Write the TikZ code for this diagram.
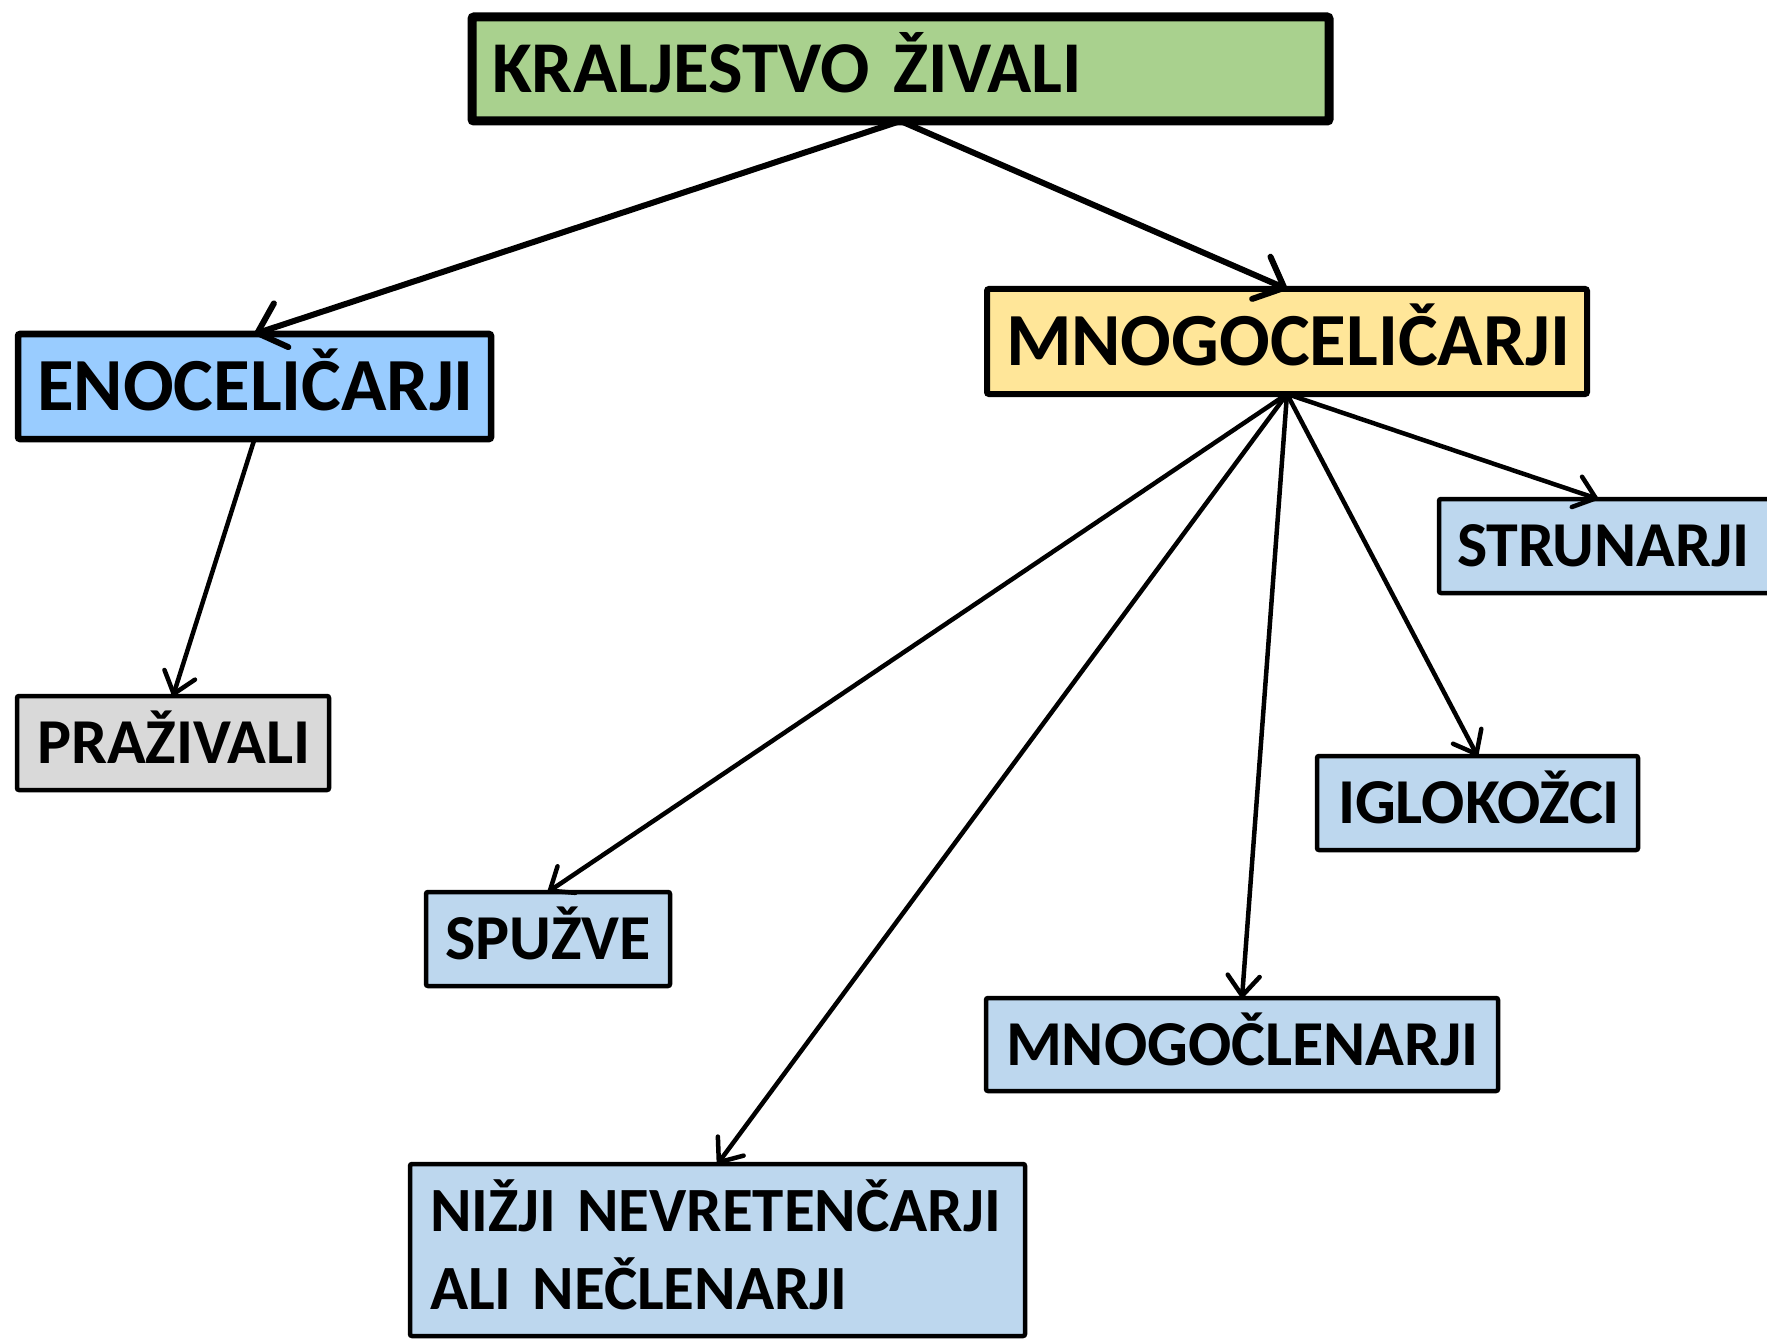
\documentclass[tikz,border=0pt]{standalone}
\usepackage{fontspec}
\setmainfont{Carlito}
\usetikzlibrary{arrows.meta}
\definecolor{cgreen}{HTML}{A9D18E}
\definecolor{cblue}{HTML}{99CCFF}
\definecolor{cyellow}{HTML}{FFE699}
\definecolor{clight}{HTML}{BDD7EE}
\definecolor{cgray}{HTML}{D9D9D9}
\begin{document}
\begin{tikzpicture}[x=1pt,y=-1pt,
  box/.style={draw=black, rounded corners=2pt, outer sep=0pt, inner ysep=0pt, align=left, font=\bfseries},
  topfont/.style={font=\fontsize{73}{80}\selectfont\bfseries, text height=47pt, text depth=0pt},
  bigfont/.style={font=\fontsize{75}{80}\selectfont\bfseries, text height=48pt, text depth=0pt},
  smallfont/.style={font=\fontsize{64}{78}\selectfont\bfseries, text height=41pt, text depth=0pt},
  bigarrow/.style={line width=6pt, -{Straight Barb[length=25pt,width=46pt,round]}},
  smallarrow/.style={line width=4.5pt, -{Straight Barb[length=20pt,width=32pt,round]}}]
\useasboundingbox (0,0) rectangle (1767,1340);
\node[box, topfont, fill=cgreen, line width=9pt, inner xsep=20pt, text width=817pt, minimum height=104pt] (top) at (900.5,69) {KRALJESTVO ŽIVALI};
\node[box, bigfont, fill=cblue, line width=6.5pt, inner xsep=19pt, text width=435pt, minimum height=105pt] (eno) at (254.5,386.5) {ENOCELIČARJI};
\node[box, bigfont, fill=cyellow, line width=6pt, inner xsep=19pt, text width=562pt, minimum height=105pt] (mnogo) at (1287,341.5) {MNOGOCELIČARJI};
\node[box, smallfont, fill=cgray, line width=4.5pt, inner xsep=20pt, text width=272pt, minimum height=94pt] (praz) at (173,743) {PRAŽIVALI};
\node[box, smallfont, fill=clight, line width=4.5pt, inner xsep=18pt, text width=315pt, minimum height=94pt] (strun) at (1614.5,546) {STRUNARJI};
\node[box, smallfont, fill=clight, line width=4.5pt, inner xsep=21pt, text width=279pt, minimum height=94pt] (iglo) at (1477.5,803) {IGLOKOŽCI};
\node[box, smallfont, fill=clight, line width=4.5pt, inner xsep=19pt, text width=206pt, minimum height=94pt] (spuz) at (548,939) {SPUŽVE};
\node[box, smallfont, fill=clight, line width=4.5pt, inner xsep=20pt, text width=472pt, minimum height=93pt] (mnogoc) at (1242,1044.5) {MNOGOČLENARJI};
\node[box, font=\fontsize{63}{78}\selectfont\bfseries, text height=40pt, text depth=78pt, fill=clight, line width=4.5pt, inner xsep=20pt, text width=575pt, minimum height=172pt] (nizji) at (717.5,1250) {NIŽJI NEVRETENČARJI\\ALI NEČLENARJI};
\coordinate (strunin) at ([xshift=-16.5pt]strun.north);
\draw[bigarrow] (top.south) -- (eno.north);
\draw[bigarrow] (top.south) -- (mnogo.north);
\draw[smallarrow] (eno.south) -- (praz.north);
\draw[smallarrow] (mnogo.south) -- (spuz.north);
\draw[smallarrow] (mnogo.south) -- (nizji.north);
\draw[smallarrow] (mnogo.south) -- (mnogoc.north);
\draw[smallarrow] (mnogo.south) -- (iglo.north);
\draw[smallarrow] (mnogo.south) -- (strunin);
\end{tikzpicture}
\end{document}
